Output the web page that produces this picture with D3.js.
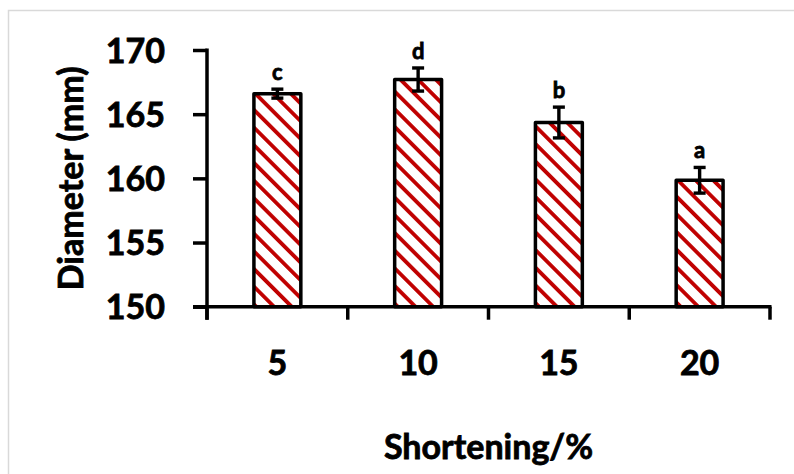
<!DOCTYPE html>
<html>
<head>
<meta charset="utf-8">
<script src="https://cdn.jsdelivr.net/npm/d3@7"></script>
<style>
  html, body { margin: 0; padding: 0; background: #fff; }
  svg { display: block; }
  svg text { stroke: #000; stroke-width: 0.8px; paint-order: stroke; }
</style>
</head>
<body>
<svg id="chart" width="794" height="474"></svg>
<script>
// Stem diameter by shortening level, with standard error and significance letters
const categories = ["5", "10", "15", "20"];
const diameters = [166.6, 167.7, 164.35, 159.85];
const errors = [0.35, 0.9, 1.2, 1.0];
const letters = ["c", "d", "b", "a"];
const yTicks = [150, 155, 160, 165, 170];
const xTitle = "Shortening/%";
const yTitle = "Diameter (mm)";

const plotLeft = 207, plotRight = 770, plotTop = 50, plotBottom = 306.7;
const FONT = "Lato, 'Open Sans', 'Liberation Sans', sans-serif";

const svg = d3.select("#chart");

// chart area frame
svg.append("rect")
  .attr("x", 8.5).attr("y", 10.5)
  .attr("width", 900).attr("height", 600)
  .attr("fill", "#fff")
  .attr("stroke", "#d9d9d9").attr("stroke-width", 1.5);

// diagonal hatch fill
const defs = svg.append("defs");
const pat = defs.append("pattern")
  .attr("id", "hatch")
  .attr("patternUnits", "userSpaceOnUse")
  .attr("width", 12.5).attr("height", 12.5)
  .attr("patternTransform", "rotate(-45)");
pat.append("rect").attr("width", 12.5).attr("height", 12.5).attr("fill", "#fff");
pat.append("rect").attr("x", 0).attr("width", 3.8).attr("height", 12.5).attr("fill", "#c00000");

const x = d3.scaleBand()
  .domain(categories)
  .range([plotLeft, plotRight])
  .paddingInner(2 / 3)
  .paddingOuter(1 / 3);

const y = d3.scaleLinear()
  .domain([150, 170])
  .range([plotBottom, plotTop]);

// bars
svg.append("g").selectAll("rect")
  .data(categories)
  .join("rect")
  .attr("x", d => x(d))
  .attr("width", x.bandwidth())
  .attr("y", (d, i) => y(diameters[i]))
  .attr("height", (d, i) => y(150) - y(diameters[i]))
  .attr("fill", "url(#hatch)")
  .attr("stroke", "#000")
  .attr("stroke-width", 3.5)
  .attr("stroke-linejoin", "round");

// error bars
const eg = svg.append("g").attr("stroke", "#000").attr("stroke-width", 3.4);
categories.forEach((c, i) => {
  const cx = x(c) + x.bandwidth() / 2;
  const y1 = y(diameters[i] + errors[i]);
  const y0 = y(diameters[i] - errors[i]);
  eg.append("line").attr("x1", cx).attr("x2", cx).attr("y1", y1).attr("y2", y0);
  eg.append("line").attr("x1", cx - 6).attr("x2", cx + 6).attr("y1", y1).attr("y2", y1);
  eg.append("line").attr("x1", cx - 6).attr("x2", cx + 6).attr("y1", y0).attr("y2", y0);
});

// significance letters
svg.append("g").selectAll("text")
  .data(categories)
  .join("text")
  .attr("x", d => x(d) + x.bandwidth() / 2)
  .attr("y", (d, i) => y(diameters[i] + errors[i]) - 9)
  .attr("text-anchor", "middle")
  .attr("font-family", FONT)
  .attr("font-weight", "bold")
  .attr("font-size", 22)
  .attr("fill", "#000")
  .text((d, i) => letters[i]);

// y axis
const yAxis = svg.append("g")
  .attr("transform", `translate(${plotLeft},0)`)
  .call(d3.axisLeft(y).tickValues(yTicks).tickSize(14).tickPadding(28).tickFormat(d3.format("d")));
yAxis.select(".domain").attr("stroke", "#000").attr("stroke-width", 3.5)
  .attr("d", `M0,${plotTop - 1.5}V${plotBottom + 13}`);
yAxis.selectAll(".tick line").attr("stroke", "#000").attr("stroke-width", 3.5);
yAxis.selectAll(".tick text")
  .attr("font-family", FONT).attr("font-weight", "bold").attr("font-size", 34)
  .attr("fill", "#000").attr("dy", "0.36em");

// x axis with ticks at category boundaries
const xAxis = svg.append("g");
xAxis.append("line")
  .attr("x1", plotLeft - 14).attr("x2", plotRight + 1.5)
  .attr("y1", plotBottom).attr("y2", plotBottom)
  .attr("stroke", "#000").attr("stroke-width", 3.5);
const step = x.step();
d3.range(categories.length + 1).forEach(i => {
  const tx = plotLeft + i * step;
  xAxis.append("line")
    .attr("x1", tx).attr("x2", tx)
    .attr("y1", plotBottom).attr("y2", plotBottom + 13)
    .attr("stroke", "#000").attr("stroke-width", 3.5);
});
xAxis.selectAll("text.xt")
  .data(categories)
  .join("text")
  .attr("class", "xt")
  .attr("x", d => x(d) + x.bandwidth() / 2)
  .attr("y", 375)
  .attr("text-anchor", "middle")
  .attr("font-family", FONT).attr("font-weight", "bold").attr("font-size", 34)
  .attr("fill", "#000")
  .text(d => d);

// axis titles
svg.append("text")
  .attr("x", (plotLeft + plotRight) / 2).attr("y", 459)
  .attr("text-anchor", "middle")
  .attr("font-family", FONT).attr("font-weight", "bold").attr("font-size", 34)
  .attr("fill", "#000")
  .text(xTitle);

svg.append("text")
  .attr("transform", `translate(83,${(plotTop + plotBottom) / 2}) rotate(-90)`)
  .attr("text-anchor", "middle")
  .attr("font-family", FONT).attr("font-weight", "bold").attr("font-size", 34)
  .attr("fill", "#000")
  .text(yTitle);
</script>
</body>
</html>
